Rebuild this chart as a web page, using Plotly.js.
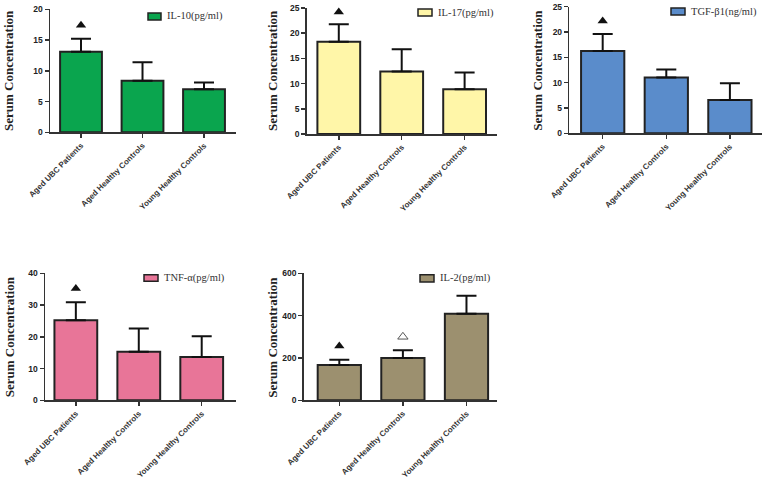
<!DOCTYPE html>
<html><head><meta charset="utf-8">
<script src="https://cdn.plot.ly/plotly-3.0.1.min.js"></script>
<style>body{margin:0;background:#fff}#c{width:766px;height:482px}</style>
</head><body><div id="c"></div>
<script>
const categories = ["Aged UBC Patients", "Aged Healthy Controls", "Young Healthy Controls"];

const il10Names = "IL-10(pg/ml)";
const il10Mean = [13.1, 8.4, 7.0];
const il10Sd = [2.1, 3.0, 1.1];
const il10MarkY = [17.4];

const il17Names = "IL-17(pg/ml)";
const il17Mean = [18.3, 12.4, 8.9];
const il17Sd = [3.5, 4.4, 3.3];
const il17MarkY = [24.2];

const tgfNames = "TGF-β1(ng/ml)";
const tgfMean = [16.25, 11.0, 6.6];
const tgfSd = [3.35, 1.6, 3.3];
const tgfMarkY = [22.2];

const tnfNames = "TNF-α(pg/ml)";
const tnfMean = [25.2, 15.3, 13.6];
const tnfSd = [5.7, 7.3, 6.6];
const tnfMarkY = [35.2];

const il2Names = "IL-2(pg/ml)";
const il2Mean = [167, 200, 409];
const il2Sd = [25, 36, 85];
const il2MarkFilledY = [256];
const il2MarkOpenY = [300];

const W = 766, H = 482;
const X = p => p / W, Y = p => 1 - p / H;

const panels = [
  {name: il10Names, mean: il10Mean, sd: il10Sd, color: "#0aa54e", px: [50, 236], py: [9.3, 132.3], yr: [0, 20], dt: 5, xr: [-0.504, 2.52],
   leg: [148, 161, 13, 20], title: [8, 71]},
  {name: il17Names, mean: il17Mean, sd: il17Sd, color: "#fff6a8", px: [306.7, 496.7], py: [8, 134], yr: [0, 25], dt: 5, xr: [-0.51, 2.51],
   leg: [418, 432, 9, 16], title: [272, 71]},
  {name: tgfNames, mean: tgfMean, sd: tgfSd, color: "#5a8ccb", px: [569.3, 761.7], py: [6.7, 133.3], yr: [0, 25], dt: 5, xr: [-0.525, 2.5],
   leg: [671, 685, 8, 15], title: [536.7, 70]},
  {name: tnfNames, mean: tnfMean, sd: tnfSd, color: "#e87598", px: [45, 235.7], py: [273.3, 400.3], yr: [0, 40], dt: 10, xr: [-0.49, 2.54],
   leg: [144, 158, 274.7, 281.3], title: [9.3, 337]},
  {name: il2Names, mean: il2Mean, sd: il2Sd, color: "#9c906f", px: [303.7, 497], py: [273.3, 400.3], yr: [0, 600], dt: 200, xr: [-0.56, 2.48],
   leg: [420, 434, 274.7, 282], title: [271.7, 337]}
];
const marks = [
  {panel: 0, y: il10MarkY, sym: "triangle-up"},
  {panel: 1, y: il17MarkY, sym: "triangle-up"},
  {panel: 2, y: tgfMarkY, sym: "triangle-up"},
  {panel: 3, y: tnfMarkY, sym: "triangle-up"},
  {panel: 4, y: il2MarkFilledY, sym: "triangle-up", cat: 0},
  {panel: 4, y: il2MarkOpenY, sym: "triangle-up-open", cat: 1}
];

const traces = [], layout = {
  width: W, height: H, margin: {l: 0, r: 0, t: 0, b: 0},
  paper_bgcolor: "#fff", plot_bgcolor: "rgba(0,0,0,0)", showlegend: false,
  bargap: 0, shapes: [], annotations: []
};
const tickFont = {family: "Liberation Sans, Arial, sans-serif", size: 8.5, color: "#222", weight: "bold"};
const catFont = {family: "Liberation Sans, Arial, sans-serif", size: 8, color: "#333", weight: "bold"};

panels.forEach((p, i) => {
  const s = i === 0 ? "" : String(i + 1);
  const xa = "x" + s, ya = "y" + s;
  traces.push({
    type: "bar", x: categories, y: p.mean, name: p.name, xaxis: xa, yaxis: ya, width: 0.68,
    marker: {color: p.color, line: {color: "#222", width: 2}},
    error_y: {type: "data", symmetric: false, array: p.sd, arrayminus: p.sd.map(() => 0), color: "#111", thickness: 2, width: 10},
    hoverinfo: "x+y"
  });
  layout["xaxis" + s] = {
    domain: [X(p.px[0]), X(p.px[1])], anchor: ya, type: "category", range: p.xr,
    showline: true, linecolor: "#333", linewidth: 1.5, ticks: "outside", ticklen: 4, tickwidth: 1.5, tickcolor: "#333",
    tickangle: -45, tickfont: catFont, showgrid: false, zeroline: false, fixedrange: true
  };
  layout["yaxis" + s] = {
    domain: [Y(p.py[1]), Y(p.py[0])], anchor: xa, range: p.yr, dtick: p.dt, tick0: 0,
    showline: true, linecolor: "#333", linewidth: 1.5, ticks: "outside", ticklen: 4, tickwidth: 1.5, tickcolor: "#333",
    tickfont: tickFont, showgrid: false, zeroline: false, fixedrange: true
  };
  layout.shapes.push({type: "rect", xref: "paper", yref: "paper",
    x0: X(p.leg[0]), x1: X(p.leg[1]), y0: Y(p.leg[3]), y1: Y(p.leg[2]),
    fillcolor: p.color, line: {color: "#222", width: 1.5}});
  layout.annotations.push({xref: "paper", yref: "paper", x: X(p.leg[1] + 4), y: Y((p.leg[2] + p.leg[3]) / 2),
    xanchor: "left", yanchor: "middle", showarrow: false, text: p.name,
    font: {family: "Liberation Serif, Times New Roman, serif", size: 10.5, color: "#333"}});
  layout.annotations.push({xref: "paper", yref: "paper", x: X(p.title[0]), y: Y(p.title[1]),
    xanchor: "center", yanchor: "middle", showarrow: false, textangle: -90, text: "Serum Concentration",
    font: {family: "Liberation Serif, Times New Roman, serif", size: 13, color: "#222", weight: "bold"}});
});

marks.forEach(m => {
  const s = m.panel === 0 ? "" : String(m.panel + 1);
  const c = m.cat === undefined ? 0 : m.cat;
  traces.push({
    type: "scatter", mode: "markers", x: [categories[c]], y: m.y, xaxis: "x" + s, yaxis: "y" + s,
    marker: {symbol: m.sym, size: 9, color: m.sym.indexOf("open") >= 0 ? "#555" : "#111", line: {width: m.sym.indexOf("open") >= 0 ? 1 : 0, color: "#555"}},
    hoverinfo: "skip", cliponaxis: false
  });
});

Plotly.newPlot("c", traces, layout, {staticPlot: true});
</script>
</body></html>
